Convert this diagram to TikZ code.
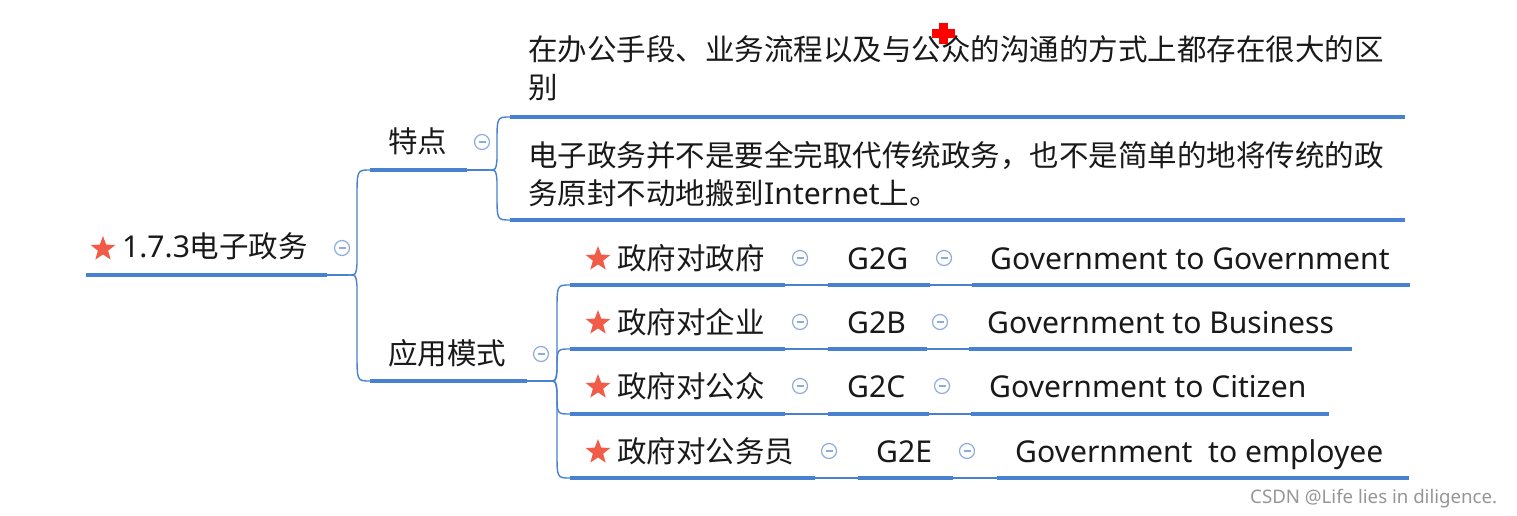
\documentclass[tikz,border=0pt]{standalone}
\usepackage{fontspec}
\newfontfamily\cjk{Noto Sans CJK SC}
\newfontfamily\lat[Scale=1.02]{Noto Sans}
\usetikzlibrary{calc,shapes.geometric}
\definecolor{lineblue}{RGB}{72,129,208}
\definecolor{collblue}{RGB}{140,172,222}
\definecolor{starred}{RGB}{240,92,72}
\definecolor{txt}{RGB}{25,25,25}
\definecolor{wmgray}{RGB}{150,150,150}
% #1 junction, #2 target, #3 direction (+1 down, -1 up), #4 end bend length
\newcommand\brlink[4]{%
  \draw[conn] (#1) .. controls ($(#1)+(7,0)$) .. ($(#1)+(8,{11*(#3)})$)
    -- ($(#1|-#2)+(8,{-#4*(#3)})$) .. controls ($(#1|-#2)+(8,0)$) .. (#2);}
\tikzset{
  topic/.style={anchor=base west, inner sep=0, text=txt, font=\cjk\fontsize{29.5}{36}\selectfont},
  ulline/.style={draw=lineblue, line width=4pt},
  conn/.style={draw=lineblue, line width=1.4pt},
  coll/.style={circle, draw=collblue, line width=1.2pt, minimum size=15pt, inner sep=0,
    path picture={\draw[collblue,line width=1.2pt] ([xshift=-3.5pt]path picture bounding box.center) -- ([xshift=3.5pt]path picture bounding box.center);}},
  staricon/.style={star, star points=5, star point ratio=2.4, fill=starred, minimum size=26pt, inner sep=0},
}
\begin{document}
\begin{tikzpicture}[x=1pt,y=-1pt]
\fill[white] (0,0) rectangle (1517,516);
\useasboundingbox (0,0) rectangle (1517,516);

% root
\coordinate (ul0) at (86,275); \coordinate (ur0) at (327,275); \coordinate (j0) at (349,275);
\node[staricon] (s0) at (103,249) {};
\node[topic] (t0) at (122,257) {{\lat 1.7.3}电子政务};
\node[coll] (c0) at (342,248) {};
\draw[ulline] (ul0) -- (ur0); \draw[conn] (ur0) -- (j0);

% 特点
\coordinate (ul1) at (370,170); \coordinate (ur1) at (467,170); \coordinate (j1) at (489,170);
\node[topic] (t1) at (388,153) {特点};
\node[coll] (c1) at (482,142) {};
\draw[ulline] (ul1) -- (ur1); \draw[conn] (ur1) -- (j1);

% 应用模式
\coordinate (ul2) at (370,381); \coordinate (ur2) at (527,381); \coordinate (j2) at (549,381);
\node[topic] (t2) at (388,364) {应用模式};
\node[coll] (c2) at (541,354) {};
\draw[ulline] (ul2) -- (ur2); \draw[conn] (ur2) -- (j2);

\brlink{j0}{ul1}{-1}{28}
\brlink{j0}{ul2}{1}{28}

% items of 特点
\coordinate (ul11) at (510,117); \coordinate (ur11) at (1405,117);
\node[topic] (t11a) at (528,61) {在办公手段、业务流程以及与公众的沟通的方式上都存在很大的区};
\node[topic] (t11b) at (528,99) {别};
\draw[ulline] (ul11) -- (ur11);
\coordinate (ul12) at (510,220); \coordinate (ur12) at (1405,220);
\node[topic] (t12a) at (528,166) {电子政务并不是要全完取代传统政务，也不是简单的地将传统的政};
\node[topic] (t12b) at (528,204) {务原封不动地搬到{\lat Internet}上。};
\draw[ulline] (ul12) -- (ur12);
\brlink{j1}{ul11}{-1}{26}
\brlink{j1}{ul12}{1}{26}

% row 1
\coordinate (ulr1a) at (570,285); \coordinate (urr1a) at (785,285);
\coordinate (ulr1b) at (828,285); \coordinate (urr1b) at (930,285);
\coordinate (ulr1c) at (972,285); \coordinate (urr1c) at (1410,285);
\node[staricon] (sr1) at (598,259) {};
\node[topic] (tr1a) at (617,269) {政府对政府};
\node[coll] (cr1a) at (800,258) {};
\node[topic] (tr1b) at (847,269) {\lat G2G};
\node[coll] (cr1b) at (944,258) {};
\node[topic] (tr1c) at (990,269) {\lat Government to Government};
\draw[ulline] (ulr1a) -- (urr1a); \draw[conn] (urr1a) -- (ulr1b);
\draw[ulline] (ulr1b) -- (urr1b); \draw[conn] (urr1b) -- (ulr1c);
\draw[ulline] (ulr1c) -- (urr1c);

% row 2
\coordinate (ulr2a) at (570,349); \coordinate (urr2a) at (785,349);
\coordinate (ulr2b) at (828,349); \coordinate (urr2b) at (927,349);
\coordinate (ulr2c) at (969,349); \coordinate (urr2c) at (1352,349);
\node[staricon] (sr2) at (598,323) {};
\node[topic] (tr2a) at (617,333) {政府对企业};
\node[coll] (cr2a) at (800,322) {};
\node[topic] (tr2b) at (847,333) {\lat G2B};
\node[coll] (cr2b) at (940,322) {};
\node[topic] (tr2c) at (987,333) {\lat Government to Business};
\draw[ulline] (ulr2a) -- (urr2a); \draw[conn] (urr2a) -- (ulr2b);
\draw[ulline] (ulr2b) -- (urr2b); \draw[conn] (urr2b) -- (ulr2c);
\draw[ulline] (ulr2c) -- (urr2c);

% row 3
\coordinate (ulr3a) at (570,414); \coordinate (urr3a) at (785,414);
\coordinate (ulr3b) at (828,414); \coordinate (urr3b) at (929,414);
\coordinate (ulr3c) at (971,414); \coordinate (urr3c) at (1329,414);
\node[staricon] (sr3) at (598,387) {};
\node[topic] (tr3a) at (617,397) {政府对公众};
\node[coll] (cr3a) at (800,386) {};
\node[topic] (tr3b) at (847,397) {\lat G2C};
\node[coll] (cr3b) at (942,386) {};
\node[topic] (tr3c) at (989,397) {\lat Government to Citizen};
\draw[ulline] (ulr3a) -- (urr3a); \draw[conn] (urr3a) -- (ulr3b);
\draw[ulline] (ulr3b) -- (urr3b); \draw[conn] (urr3b) -- (ulr3c);
\draw[ulline] (ulr3c) -- (urr3c);

% row 4
\coordinate (ulr4a) at (570,478); \coordinate (urr4a) at (815,478);
\coordinate (ulr4b) at (858,478); \coordinate (urr4b) at (953,478);
\coordinate (ulr4c) at (997,478); \coordinate (urr4c) at (1409,478);
\node[staricon] (sr4) at (598,452) {};
\node[topic] (tr4a) at (617,462) {政府对公务员};
\node[coll] (cr4a) at (829,451) {};
\node[topic] (tr4b) at (876,462) {\lat G2E};
\node[coll] (cr4b) at (967,451) {};
\node[topic] (tr4c) at (1015,462) {\lat Government\ \ to employee};
\draw[ulline] (ulr4a) -- (urr4a); \draw[conn] (urr4a) -- (ulr4b);
\draw[ulline] (ulr4b) -- (urr4b); \draw[conn] (urr4b) -- (ulr4c);
\draw[ulline] (ulr4c) -- (urr4c);

\brlink{j2}{ulr1a}{-1}{26}
\brlink{j2}{ulr2a}{-1}{20}
\brlink{j2}{ulr3a}{1}{20}
\brlink{j2}{ulr4a}{1}{26}

% red cursor mark
\fill[red] (932,29) rectangle (955,38);
\fill[red] (939,23) rectangle (948,44);

% watermark
\node[anchor=base west, inner sep=0, text=wmgray, font=\lat\fontsize{18.3}{20}\selectfont] (wm) at (1250,503) {CSDN @Life lies in diligence.};
\end{tikzpicture}
\end{document}
